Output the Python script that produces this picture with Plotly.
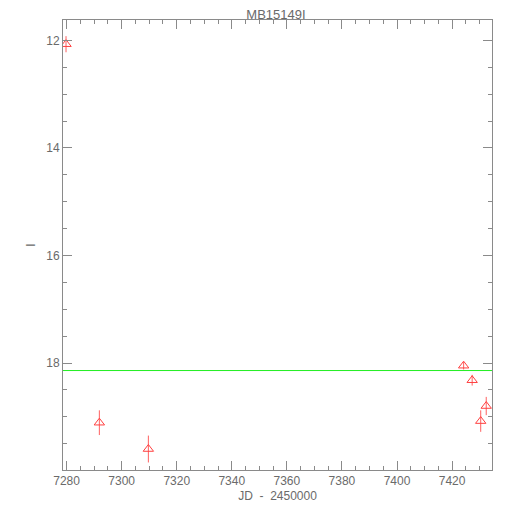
import plotly.graph_objects as go

jd = [7279.8, 7291.9, 7309.7, 7424.2, 7427.3, 7430.4, 7432.4]
mag = [12.07, 19.11, 19.60, 18.05, 18.32, 19.08, 18.80]
err = [0.15, 0.23, 0.25, 0.07, 0.10, 0.20, 0.17]
baseline = 18.14

title = "MB15149I"
xtitle = "JD  -  2450000"
ytitle = "I"

axis_col = "#8a8a8a"
font = dict(family="Liberation Sans", size=12, color="#6a6a6a")

fig = go.Figure()
fig.add_trace(go.Scatter(
    x=jd, y=mag, mode="markers",
    marker=dict(symbol="triangle-up-open", size=9, color="#ff4040", line=dict(width=1)),
    error_y=dict(type="data", array=err, visible=True, color="#ff6060", thickness=1, width=0),
    showlegend=False, cliponaxis=True,
))
fig.add_shape(type="line", xref="paper", x0=0, x1=1, yref="y", y0=baseline, y1=baseline,
              line=dict(color="#22ee22", width=1))

common = dict(showgrid=False, zeroline=False, showline=True, linecolor=axis_col, linewidth=1,
              ticks="inside", tickcolor=axis_col, mirror="ticks", tickfont=font)

fig.update_xaxes(range=[7278.7, 7434.5], dtick=20, tick0=7280, ticklen=9,
                 minor=dict(dtick=5, ticklen=4, ticks="inside", tickcolor=axis_col),
                 title=dict(text=xtitle, font=font, standoff=4), **common)
fig.update_yaxes(range=[19.99, 11.62], dtick=2, tick0=12, ticklen=9,
                 minor=dict(dtick=0.5, ticklen=4, ticks="inside", tickcolor=axis_col),
                 title=dict(text=ytitle, font=font, standoff=8), **common)

fig.update_layout(
    width=510, height=510,
    margin=dict(l=55, r=26, t=12, b=48),
    paper_bgcolor="white", plot_bgcolor="white",
    title=dict(text=title, xref="container", x=0.5255, xanchor="center",
               yref="container", y=0.988, yanchor="middle",
               font=dict(family="Liberation Sans", size=13, color="#6a6a6a")),
    font=font,
)
fig.write_html("out.html")
